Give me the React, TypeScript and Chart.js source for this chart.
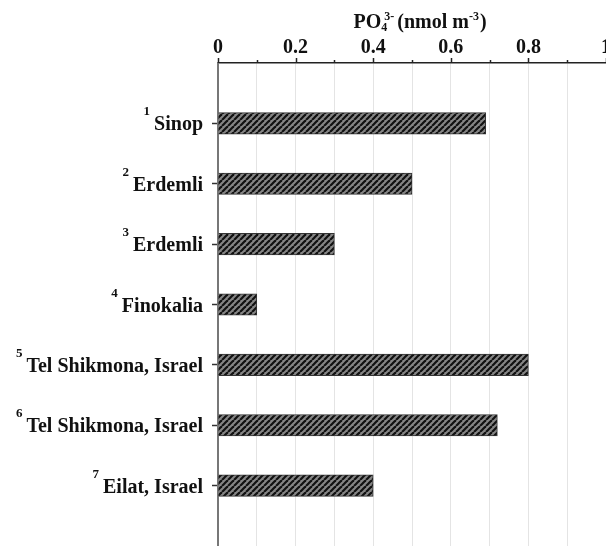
import React, { useEffect, useRef } from 'react';
import { Chart, registerables } from 'chart.js';

Chart.register(...registerables);

const siteNumbers = ['1', '2', '3', '4', '5', '6', '7'];
const siteNames = [
  'Sinop',
  'Erdemli',
  'Erdemli',
  'Finokalia',
  'Tel Shikmona, Israel',
  'Tel Shikmona, Israel',
  'Eilat, Israel',
];
const po4Values = [0.69, 0.5, 0.3, 0.1, 0.8, 0.72, 0.4];
const xTickValues = [0, 0.2, 0.4, 0.6, 0.8, 1];
const xTickLabels = ['0', '0.2', '0.4', '0.6', '0.8', '1'];
const xMinorTickValues = [0.1, 0.3, 0.5, 0.7, 0.9];

const FONT = '"Liberation Serif", "Times New Roman", serif';

const categoryLabels = ['', ...siteNames.map((n, i) => siteNumbers[i] + ' ' + n), ''];
const barData = [null, ...po4Values, null];

const annotPlugin = {
  id: 'annot',
  afterDraw(chart: any) {
    const ctx: CanvasRenderingContext2D = chart.ctx;
    const xs = chart.scales.x;
    const ys = chart.scales.y;
    const area = chart.chartArea;
    const top = area.top;
    ctx.save();
    ctx.fillStyle = '#111';
    ctx.strokeStyle = '#222';
    ctx.lineWidth = 1.5;
    // x tick marks
    const mark = (v: number, len: number) => {
      const px = Math.round(xs.getPixelForValue(v)) + 0.5;
      ctx.beginPath();
      ctx.moveTo(px, top - len);
      ctx.lineTo(px, top);
      ctx.stroke();
    };
    xTickValues.forEach((v) => mark(v, 5));
    xMinorTickValues.forEach((v) => mark(v, 3));

    // x tick labels
    ctx.font = `bold 20px ${FONT}`;
    ctx.textAlign = 'center';
    ctx.textBaseline = 'alphabetic';
    xTickValues.forEach((v, i) => {
      ctx.fillText(xTickLabels[i], xs.getPixelForValue(v), top - 10);
    });

    // title: PO4^3- (nmol m^-3)
    const big = `bold 20px ${FONT}`;
    const small = `bold 12px ${FONT}`;
    ctx.textAlign = 'left';
    ctx.font = big;
    const wPO = ctx.measureText('PO').width;
    const wMid = ctx.measureText('(nmol m').width;
    const wClose = ctx.measureText(')').width;
    ctx.font = small;
    const w4 = ctx.measureText('4').width;
    const w3m = ctx.measureText('3-').width;
    const wNeg = ctx.measureText('-3').width;
    const supBlock = Math.max(w4, 3 + w3m);
    const total = wPO + supBlock + 3 + wMid + wNeg + 1 + wClose;
    const cx = (area.left + area.right) / 2 + 8;
    const b = top - 35;
    let x = cx - total / 2;
    ctx.font = big;
    ctx.fillText('PO', x, b);
    x += wPO;
    ctx.font = small;
    ctx.fillText('4', x, b + 3);
    ctx.fillText('3-', x + 3, b - 8);
    x += supBlock + 3;
    ctx.font = big;
    ctx.fillText('(nmol m', x, b);
    x += wMid;
    ctx.font = small;
    ctx.fillText('-3', x, b - 8);
    x += wNeg + 1;
    ctx.font = big;
    ctx.fillText(')', x, b);

    // y labels with superscript numbers
    const right = area.left - 15;
    siteNames.forEach((name, i) => {
      const py = ys.getPixelForValue(i + 1);
      ctx.font = big;
      ctx.textAlign = 'right';
      ctx.fillText(name, right, py + 7);
      const w = ctx.measureText(name).width;
      ctx.font = `bold 13px ${FONT}`;
      ctx.fillText(siteNumbers[i], right - w - 4, py - 8);
    });
    ctx.restore();
  },
};

export default function App() {
  const canvasRef = useRef<HTMLCanvasElement>(null);

  useEffect(() => {
    const canvas = canvasRef.current;
    if (!canvas) return;
    const mainCtx = canvas.getContext('2d')!;
    const p = 6;
    const tile = document.createElement('canvas');
    tile.width = p;
    tile.height = p;
    const g = tile.getContext('2d')!;
    g.fillStyle = '#858585';
    g.fillRect(0, 0, p, p);
    g.strokeStyle = '#111';
    g.lineWidth = 2.2;
    for (const k of [-p, 0, p]) {
      g.beginPath();
      g.moveTo(k, p);
      g.lineTo(k + p, 0);
      g.stroke();
    }
    const hatch = mainCtx.createPattern(tile, 'repeat') || '#555';

    const last = categoryLabels.length - 1;
    const chart = new Chart(canvas, {
      type: 'bar',
      data: {
        labels: categoryLabels,
        datasets: [
          {
            data: barData as any,
            backgroundColor: hatch as any,
            borderColor: '#333',
            borderWidth: 1,
            barThickness: 21.5,
          },
        ],
      },
      options: {
        indexAxis: 'y',
        responsive: false,
        animation: false,
        layout: { padding: 0 },
        plugins: {
          legend: { display: false },
          tooltip: { enabled: false },
          title: { display: false },
        },
        scales: {
          x: {
            type: 'linear',
            position: 'top',
            min: 0,
            max: 1,
            ticks: { display: false, stepSize: 0.1 },
            grid: { color: '#e4e4e4', lineWidth: 1, drawTicks: false },
            border: { display: true, color: '#222', width: 1.5 },
            afterFit: (s: any) => {
              s.height = 63;
            },
          },
          y: {
            type: 'category',
            offset: false,
            position: 'left',
            ticks: { display: false },
            grid: {
              offset: false,
              drawOnChartArea: false,
              drawTicks: true,
              tickLength: 6,
              tickWidth: 1.5,
              tickColor: (c: any) =>
                c.index === 0 || c.index === last ? 'rgba(0,0,0,0)' : '#333',
            },
            border: { display: true, color: '#777', width: 2 },
            afterFit: (s: any) => {
              s.width = 218;
            },
          },
        },
      },
      plugins: [annotPlugin],
    });
    return () => chart.destroy();
  }, []);

  return (
    <div style={{ position: 'fixed', left: 0, top: 0, width: 606, height: 546, background: '#fff' }}>
      <canvas ref={canvasRef} width={606} height={546} style={{ display: 'block' }} />
    </div>
  );
}
